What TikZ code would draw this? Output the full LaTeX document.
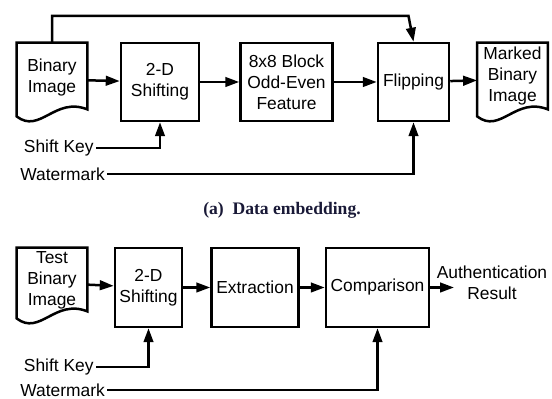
\documentclass[tikz,border=0pt]{standalone}
\usepackage{fontspec}
\setmainfont{Liberation Sans}
\newfontfamily\capfont{Liberation Serif}
\usepackage{xcolor}
\usetikzlibrary{arrows.meta,positioning,calc}

\definecolor{capcol}{RGB}{25,25,55}

% outline of a document symbol round a named node
\newcommand{\docframe}[1]{%
  \draw[line width=1.25pt] (#1.south west) -- (#1.north west) -- (#1.north east)
    -- ($(#1.south east)+(0,-7)$)
    .. controls ($(#1.south west)!0.54!(#1.south east)+(0,-20)$)
    and ($(#1.south west)!0.33!(#1.south east)+(0,18)$) .. cycle;}

\begin{document}
\begin{tikzpicture}[x=0.5pt, y=-0.5pt,
font=\fontsize{8.7}{10.5}\selectfont,
box/.style={draw, line width=1.25pt, align=center, minimum height=39pt, inner sep=1pt},
doc/.style={align=center, minimum width=35pt, inner sep=1pt},
lbl/.style={inner sep=0pt},
arr/.style={-{Triangle[length=7pt,width=4.8pt]}, line width=1.25pt}
]
\useasboundingbox (0,0) rectangle (552,399);

% (a) embedding
\node[doc, minimum height=36.5pt, text depth=4pt] (bin) at (52,79.5) {Binary\\Image};
\node[box, minimum width=39pt] (shift) at (160,82) {2-D\\Shifting};
\node[box, minimum width=46pt, right=19.5pt of shift] (feat) {8x8 Block\\Odd-Even\\Feature};
\node[box, minimum width=35.5pt, right=21.5pt of feat] (flip) {Flipping};
\node[doc, minimum height=36.5pt, text depth=5pt] (mark) at (512.5,79.5) {Marked\\Binary\\Image};
\docframe{bin}
\docframe{mark}
\node[lbl, anchor=east] (key) at (94,148) {Shift Key};
\node[lbl, anchor=west] (wm) at (20,174) {Watermark};
\coordinate (top) at (408.5,16);

\draw[arr] (bin) -- (shift);
\draw[arr] (shift) -- (feat);
\draw[arr] (feat) -- (flip);
\draw[arr] (flip) -- (mark);
\draw[arr] (bin.north) |- (top) -- (flip.north);
\draw[arr] ([xshift=1pt]key.east) -| (shift.south);
\draw[arr] ([xshift=1pt]wm.east) -| (flip.south);

\node[font=\capfont\bfseries\fontsize{8.8}{10}\selectfont, text=capcol] (cap) at (282,210) {(a)\ \ Data embedding.};

% (b) authentication
\node[doc, minimum height=35pt, text depth=4.5pt] (tbin) at (52,283) {Test\\Binary\\Image};
\node[box, minimum width=33.5pt, minimum height=39.5pt] (shiftb) at (148.5,287.5) {2-D\\Shifting};
\node[box, minimum width=43.5pt, minimum height=39.5pt, right=13.5pt of shiftb] (extr) {Extraction};
\node[box, minimum width=51.5pt, minimum height=39.5pt, right=12.5pt of extr] (comp) {Comparison};
\node[align=center, inner sep=0pt] (res) at (492,283) {Authentication\\Result};
\docframe{tbin}
\node[lbl, anchor=east] (keyb) at (94,367) {Shift Key};
\node[lbl, anchor=west] (wmb) at (20,390) {Watermark};
\coordinate (rtip) at (454,287.5);

\draw[arr] (tbin) -- (shiftb);
\draw[arr] (shiftb) -- (extr);
\draw[arr] (extr) -- (comp);
\draw[arr] (comp) -- (rtip);
\draw[arr] ([xshift=1pt]keyb.east) -| (shiftb.south);
\draw[arr] ([xshift=1pt]wmb.east) -| (comp.south);
\end{tikzpicture}
\end{document}
